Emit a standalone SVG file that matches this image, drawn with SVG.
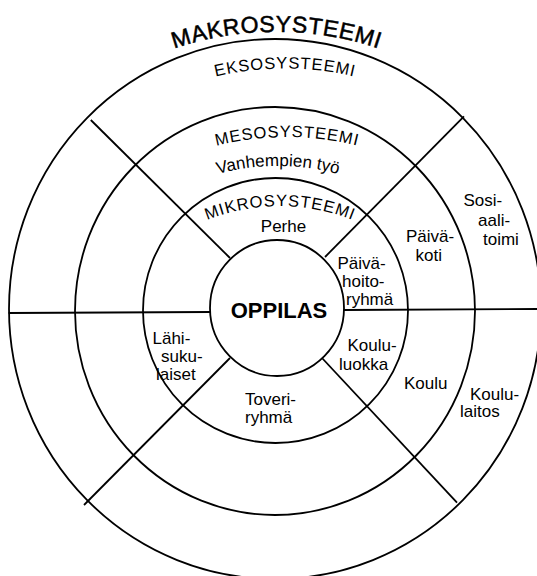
<svg xmlns="http://www.w3.org/2000/svg" width="537" height="576" viewBox="0 0 537 576">
  <style>
    .ring { fill: none; stroke: #000; stroke-width: 1.8; }
    .conn { stroke: #000; stroke-width: 1.8; fill: none; }
    text { font-family: "Liberation Sans", Arial, sans-serif; fill: #000; }
    .lbl { font-size: 17px; }
    .sys { font-size: 16.5px; letter-spacing: 0.9px; }
    .makro { font-size: 23px; letter-spacing: 0.6px; stroke: #000; stroke-width: 0.5; }
    .core { font-size: 22px; font-weight: bold; }
  </style>
  <defs>
    <path id="pMakro" d="M 76.5 102 A 320 320 0 0 1 476.5 102"/>
    <path id="pEkso" d="M 105 128.5 A 300 300 0 0 1 465 128.5"/>
    <path id="pMeso" d="M 107 200 A 289 289 0 0 1 467 200"/>
    <path id="pVanh" d="M 128 221.6 A 230 230 0 0 1 428 221.6"/>
    <path id="pMikro" d="M 130 276.5 A 195 195 0 0 1 430 276.5"/>
  </defs>
  <rect width="537" height="576" fill="#fff"/>

  <g id="makrosysteemi">
    <text class="makro" text-anchor="middle"><textPath href="#pMakro" startOffset="50%">MAKROSYSTEEMI</textPath></text>
  </g>

  <g id="eksosysteemi">
    <ellipse class="ring" cx="275" cy="309" rx="266" ry="270"/>
    <text class="sys" text-anchor="middle"><textPath href="#pEkso" startOffset="50%">EKSOSYSTEEMI</textPath></text>
  </g>

  <g id="mesosysteemi">
    <ellipse class="ring" cx="275" cy="311" rx="200" ry="204"/>
    <text class="sys" text-anchor="middle"><textPath href="#pMeso" startOffset="50%">MESOSYSTEEMI</textPath></text>
  </g>

  <g id="mikrosysteemi">
    <ellipse class="ring" cx="275.5" cy="310.5" rx="132.5" ry="132.5"/>
    <text class="sys" text-anchor="middle"><textPath href="#pMikro" startOffset="50%">MIKROSYSTEEMI</textPath></text>
  </g>

  <g id="oppilas">
    <ellipse class="ring" cx="277" cy="308" rx="67" ry="68"/>
    <text class="core" x="279" y="318" text-anchor="middle">OPPILAS</text>
  </g>

  <g id="connectors">
    <line class="conn" x1="8.6" y1="313" x2="210" y2="312"/>
    <line class="conn" x1="344" y1="310" x2="537" y2="309"/>
    <line class="conn" x1="230" y1="258" x2="90.8" y2="120"/>
    <line class="conn" x1="325" y1="257" x2="464" y2="116.4"/>
    <line class="conn" x1="230" y1="358" x2="84" y2="505"/>
    <line class="conn" x1="322" y1="358" x2="457" y2="502.6"/>
  </g>

  <g id="vanhempien-tyo">
    <text class="lbl" text-anchor="middle"><textPath href="#pVanh" startOffset="50%">Vanhempien työ</textPath></text>
  </g>
  <g id="perhe">
    <text class="lbl" x="283.5" y="232" text-anchor="middle">Perhe</text>
  </g>
  <g id="paivahoitoryhma">
    <text class="lbl" x="337.5" y="268.5">Päivä-</text>
    <text class="lbl" x="342" y="286.5">hoito-</text>
    <text class="lbl" x="346" y="304.5">ryhmä</text>
  </g>
  <g id="koululuokka">
    <text class="lbl" x="347.5" y="350.5">Koulu-</text>
    <text class="lbl" x="339" y="370">luokka</text>
  </g>
  <g id="lahisukulaiset">
    <text class="lbl" x="152.5" y="344">Lähi-</text>
    <text class="lbl" x="161" y="361.5">suku-</text>
    <text class="lbl" x="156" y="379.5">laiset</text>
  </g>
  <g id="toveriryhma">
    <text class="lbl" x="245" y="405">Toveri-</text>
    <text class="lbl" x="245" y="423">ryhmä</text>
  </g>
  <g id="paivakoti">
    <text class="lbl" x="406" y="241.5">Päivä-</text>
    <text class="lbl" x="415.5" y="261">koti</text>
  </g>
  <g id="koulu">
    <text class="lbl" x="404" y="389">Koulu</text>
  </g>
  <g id="sosiaalitoimi">
    <text class="lbl" x="463.5" y="206">Sosi-</text>
    <text class="lbl" x="478" y="226">aali-</text>
    <text class="lbl" x="483" y="245">toimi</text>
  </g>
  <g id="koululaitos">
    <text class="lbl" x="470" y="399.5">Koulu-</text>
    <text class="lbl" x="460" y="417">laitos</text>
  </g>
</svg>
